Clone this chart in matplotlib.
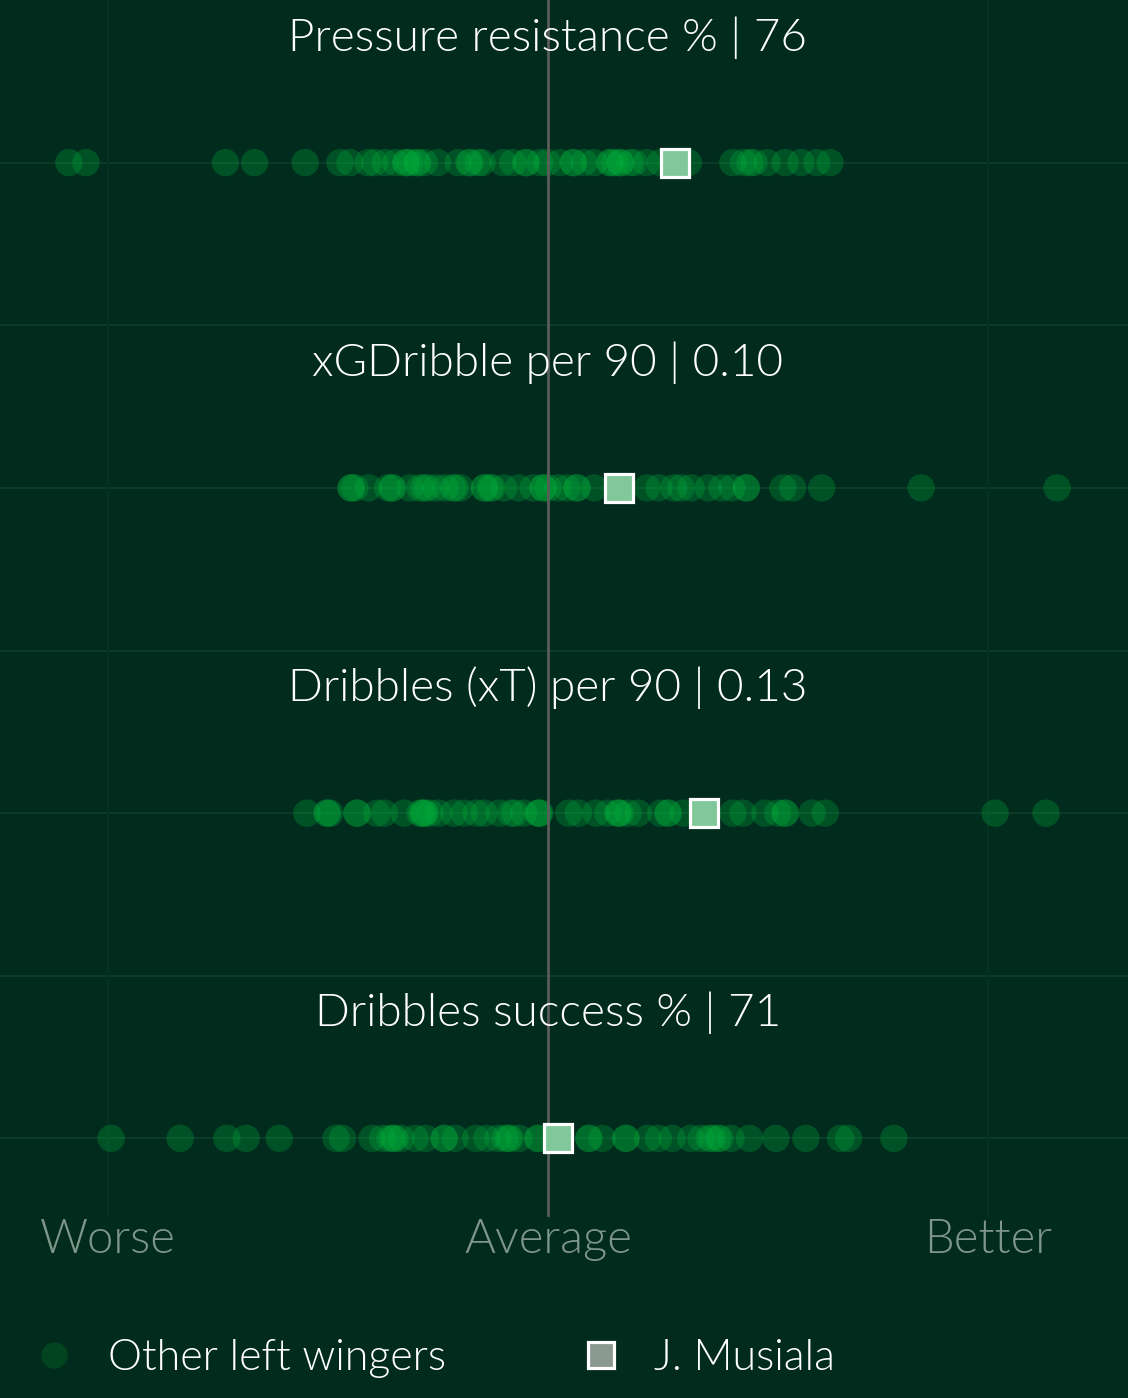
import matplotlib
matplotlib.use("Agg")
import matplotlib.pyplot as plt
from matplotlib.lines import Line2D

BG = "#012b1d"
metrics = ["Pressure resistance %", "xGDribble per 90", "Dribbles (xT) per 90", "Dribbles success %"]
player_values = ["76", "0.10", "0.13", "71"]
player_pos = [0.289, 0.161, 0.355, 0.023]

others_row1 = [-1.089, -1.050, -0.733, -0.667, -0.552, -0.473, -0.450, -0.409, -0.394, -0.370,
               -0.346, -0.323, -0.323, -0.314, -0.298, -0.296, -0.281, -0.251, -0.204, -0.180,
               -0.177, -0.159, -0.150, -0.102, -0.080, -0.050, -0.050, -0.019, -0.002, 0.027,
               0.057, 0.058, 0.082, 0.105, 0.141, 0.141, 0.152, 0.164, 0.165, 0.186, 0.195,
               0.224, 0.255, 0.319, 0.420, 0.444, 0.459, 0.468, 0.498, 0.539, 0.575, 0.611, 0.641]
others_row2 = [-0.448, -0.447, -0.439, -0.408, -0.364, -0.355, -0.353, -0.314, -0.291, -0.282,
               -0.273, -0.255, -0.234, -0.216, -0.211, -0.199, -0.145, -0.144, -0.132, -0.127,
               -0.100, -0.067, -0.034, -0.011, -0.011, 0.0, 0.022, 0.043, 0.066, 0.066, 0.105,
               0.225, 0.252, 0.286, 0.302, 0.325, 0.364, 0.395, 0.418, 0.450, 0.451, 0.534,
               0.556, 0.622, 0.848, 1.157]
others_row3 = [-0.548, -0.502, -0.502, -0.495, -0.434, -0.434, -0.389, -0.372, -0.327, -0.291,
               -0.286, -0.282, -0.280, -0.268, -0.248, -0.214, -0.191, -0.163, -0.145, -0.111,
               -0.084, -0.075, -0.055, -0.023, -0.021, -0.018, 0.047, 0.069, 0.109, 0.136,
               0.159, 0.159, 0.164, 0.182, 0.205, 0.256, 0.273, 0.273, 0.307, 0.420, 0.443,
               0.493, 0.522, 0.539, 0.539, 0.600, 0.630, 1.016, 1.132]
others_row4 = [-0.993, -0.836, -0.730, -0.686, -0.611, -0.482, -0.467, -0.400, -0.376, -0.359,
               -0.352, -0.348, -0.334, -0.302, -0.278, -0.236, -0.236, -0.211, -0.164, -0.139,
               -0.114, -0.098, -0.090, -0.086, -0.066, -0.023, -0.023, 0.093, 0.093, 0.123,
               0.177, 0.177, 0.227, 0.251, 0.282, 0.324, 0.348, 0.366, 0.373, 0.386, 0.391,
               0.416, 0.458, 0.518, 0.586, 0.665, 0.683, 0.786]
others = [others_row1, others_row2, others_row3, others_row4]
axis_labels = ["Worse", "Average", "Better"]
axis_label_pos = [-1, 0, 1]
legend_labels = ["Other left wingers", "J. Musiala"]

FONT = "Lato"
W, H = 1128, 1398
fig = plt.figure(figsize=(W / 100, H / 100), dpi=100, facecolor=BG)
ax_h = 1301 / H
ax = fig.add_axes([0, 1 - ax_h, 1, ax_h], facecolor=BG)
ax.set_xlim(-548 / 440, 580 / 440)
ax.set_ylim(3.5, -0.5)
for s in ax.spines.values():
    s.set_visible(False)
ax.set_xticks([])
ax.set_yticks([])

hgrid_c = "#0a3b26"
vgrid_c = "#063121"
for i in range(len(metrics)):
    ax.axhline(i, color=hgrid_c, lw=1.6, zorder=0)
for b in [0.5, 1.5, 2.5]:
    ax.axhline(b, color=hgrid_c, lw=1.6, zorder=0)
line_bottom = 1 - 1215 / 1301
for xv in [-1, 1]:
    ax.axvline(xv, ymin=line_bottom, ymax=1, color=vgrid_c, lw=1.6, zorder=0)
ax.axvline(0, ymin=line_bottom, ymax=1, color="#5a5d5a", lw=2, zorder=3)

for i, (m, v) in enumerate(zip(metrics, player_values)):
    ax.scatter(others[i], [i] * len(others[i]), s=390, color="#00b43c", alpha=0.28,
               edgecolors="none", zorder=2)
    ax.plot([player_pos[i]], [i], marker="s", ms=19.5, mfc="#80c89a", mec="white",
            mew=2.3, ls="none", zorder=5)
    ax.text(0, i - 0.385, f"{m} | {v}", color="white", fontsize=33, family=FONT,
            fontweight=300, ha="center", va="center", zorder=6)

for lab, xv in zip(axis_labels, axis_label_pos):
    ax.text(xv, 3.312, lab, color="#7f968a", fontsize=34, family=FONT, fontweight=300,
            ha="center", va="center")

handles = [
    Line2D([], [], marker="o", ls="none", ms=19, mfc="#01441f", mec="none"),
    Line2D([], [], marker="s", ms=19, mfc="#8a9a90", mec="white", mew=2.3, ls="none"),
]
fig.legend(handles, legend_labels, loc="center left", bbox_to_anchor=(0.029, 1 - 1359 / H),
           ncol=2, frameon=False, handlelength=1.0, handletextpad=0.74, borderpad=0,
           borderaxespad=0, columnspacing=3.1, labelcolor="white",
           prop={"family": FONT, "weight": 300, "size": 31})

fig.savefig("out.png", dpi=100, facecolor=BG)
